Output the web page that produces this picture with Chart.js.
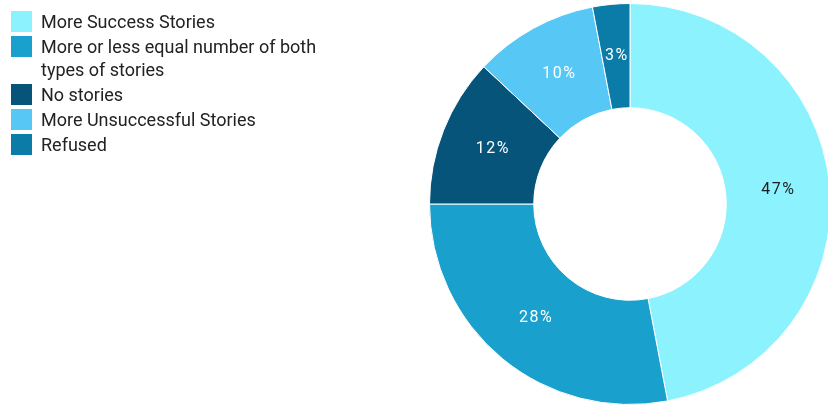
<!DOCTYPE html>
<html>
<head>
<meta charset="utf-8">
<script src="https://cdn.jsdelivr.net/npm/chart.js@4.4.1/dist/chart.umd.min.js"></script>
<style>
  html, body { margin: 0; padding: 0; background: #ffffff; overflow: hidden; width: 828px; height: 405px; }
  #wrap { position: relative; width: 828px; height: 405px; overflow: hidden; }
  #chart { position: absolute; left: 0; top: 0; }
  #legend { position: absolute; left: 11px; top: 10px; margin: 0; padding: 0; list-style: none;
            font-family: Roboto, "Noto Sans", sans-serif; font-size: 18px; line-height: 23px; color: #222222; }
  #legend li { display: flex; align-items: flex-start; margin: 0 0 2px 0; }
  #legend .box { flex: 0 0 auto; width: 21px; height: 21px; margin: 1px 9px 0 0; }
  #legend .txt { width: 300px; }
</style>
</head>
<body>
<div id="wrap">
  <canvas id="chart" width="832" height="405"></canvas>
  <ul id="legend"></ul>
</div>
<script>
// Answers and their shares (percent), clockwise from 12 o'clock
const categories = [
  'More Success Stories',
  'More or less equal number of both types of stories',
  'No stories',
  'More Unsuccessful Stories',
  'Refused'
];
const shares = [47, 28, 12, 10, 3];
const sliceColors = ['#8cf2fe', '#1aa0cc', '#07547a', '#57c8f5', '#0b7ca8'];
const labelColors = ['#1e1e1e', '#ffffff', '#ffffff', '#ffffff', '#ffffff'];

// Percent labels drawn at the middle of each ring segment
const sliceLabels = {
  id: 'sliceLabels',
  afterDatasetsDraw(chart) {
    const ctx = chart.ctx;
    const meta = chart.getDatasetMeta(0);
    ctx.save();
    ctx.font = '16px Roboto, "Noto Sans", sans-serif';
    ctx.letterSpacing = '1.5px';
    ctx.textAlign = 'center';
    ctx.textBaseline = 'middle';
    meta.data.forEach((arc, i) => {
      const p = arc.tooltipPosition();
      ctx.fillStyle = labelColors[i];
      ctx.fillText(shares[i] + '%', p.x + 0.75, p.y);
    });
    ctx.restore();
  }
};

const chart = new Chart(document.getElementById('chart'), {
  type: 'doughnut',
  data: {
    labels: categories,
    datasets: [{
      data: shares,
      backgroundColor: sliceColors,
      borderColor: '#ffffff',
      borderWidth: 1,
      hoverBorderWidth: 1,
      offset: 0,
      hoverOffset: 0
    }]
  },
  options: {
    responsive: false,
    devicePixelRatio: 1,
    animation: false,
    cutout: '48%',
    rotation: 0,
    layout: { padding: { left: 429, top: 3, right: 1, bottom: 0 } },
    plugins: {
      legend: { display: false },
      tooltip: { enabled: false }
    },
    events: []
  },
  plugins: [sliceLabels]
});

// Legend list built from the chart's own legend items
const legendEl = document.getElementById('legend');
chart.options.plugins.legend.labels.generateLabels(chart).forEach(item => {
  const li = document.createElement('li');
  const box = document.createElement('span');
  box.className = 'box';
  box.style.background = item.fillStyle;
  const txt = document.createElement('span');
  txt.className = 'txt';
  txt.textContent = item.text;
  li.appendChild(box);
  li.appendChild(txt);
  legendEl.appendChild(li);
});
</script>
</body>
</html>
